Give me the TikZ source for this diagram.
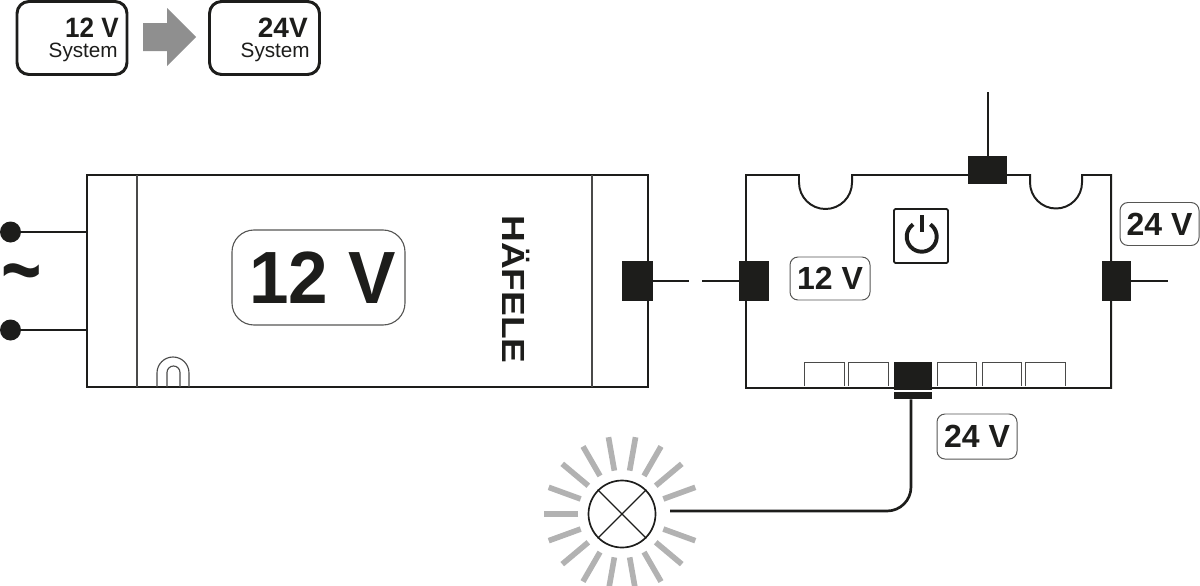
\documentclass[tikz,border=0pt]{standalone}
\usepackage{fontspec}
\setmainfont{Liberation Sans}
\usetikzlibrary{calc}
\definecolor{inkc}{HTML}{1D1D1B}
\definecolor{arrowc}{HTML}{8F8F8F}
\definecolor{rayc}{HTML}{B2B2B2}
\newcommand{\pxsize}{0.025cm}
\newdimen\pxpt
\pxpt=0.7113pt
\newcommand{\pxfont}[1]{\fontsize{#1\pxpt}{#1\pxpt}\selectfont}
\tikzset{
  wire/.style={draw=inkc,line width=1.4pt},
  thinline/.style={draw=inkc!80,line width=0.8pt},
  plug/.style={fill=inkc,inner sep=0pt,minimum width=#1*\pxsize},
  sysbox/.style={draw=inkc,line width=2.1pt,rounded corners=0.3cm,inner sep=0pt,minimum width=110*\pxsize,minimum height=73*\pxsize},
  voltlabel/.style={draw=inkc!75,line width=0.7pt,rounded corners=0.2cm,inner sep=0pt,text=inkc,font=\pxfont{32}\bfseries,minimum width=79*\pxsize,minimum height=43*\pxsize},
  systext/.style={anchor=base east,inner sep=0pt,text=inkc,font=\pxfont{20.7}},
  sysvolt/.style={anchor=base east,inner sep=0pt,text=inkc,font=\pxfont{28}\bfseries},
  slot/.style={draw=inkc!80,line width=0.7pt},
}
\begin{document}
\begin{tikzpicture}[x=\pxsize,y=-\pxsize]
    \useasboundingbox (0,0) rectangle (1200,585);

    % system boxes
    \node[sysbox] (sysa) at (72,38) {};
    \node[sysbox] (sysb) at (264.5,38) {};
    \node[sysvolt] (sysavolt) at (119,37) {\scalebox{.93}[1]{12 V}};
    \node[systext] (sysatext) at (118,57) {System};
    \node[sysvolt] (sysbvolt) at (308,37) {24V};
    \node[systext] (sysbtext) at (310,57) {System};
    \fill[arrowc] (143,23) -- (167,23) -- (167,8) -- (196,37) -- (167,66) -- (167,51) -- (143,51) -- cycle;

    % driver
    \draw[wire] (87,175) rectangle (648,387);
    \draw[thinline] (137,175) -- (137,387);
    \draw[thinline] (592,175) -- (592,387);
    \draw[thinline] (157,387) -- (157,373) arc (180:360:16) -- (189,387);
    \draw[thinline] (167,387) -- (167,372.5) arc (180:360:6.5) -- (180,387);
    \node[draw=inkc!75,line width=0.8pt,rounded corners=0.55cm,minimum width=173*\pxsize,minimum height=95*\pxsize,inner sep=0pt,text=inkc,font=\pxfont{74}\bfseries] (drvlabel) at (318.5,277.5) {\hspace*{8\pxpt}\scalebox{.96}[1]{12 V}};
    \node[rotate=-90,inner sep=0pt,text=inkc,font=\pxfont{32}\bfseries] (logo) at (516.5,289.5) {\scalebox{1.16}[1]{HÄFELE}};

    % mains side
    \node[circle,fill=inkc,inner sep=0pt,minimum size=21*\pxsize] (dota) at (10.5,232) {};
    \node[circle,fill=inkc,inner sep=0pt,minimum size=21*\pxsize] (dotb) at (10.5,330) {};
    \coordinate (ina) at (88,232);
    \coordinate (inb) at (88,330);
    \draw[wire] (dota) -- (ina);
    \draw[wire] (dotb) -- (inb);
    \node[inner sep=0pt,text=inkc,font=\pxfont{64}\bfseries] (mains) at (21.5,282) {\scalebox{1.08}[1.4]{\textasciitilde}};

    % hub
    \draw[wire] (746,388) -- (746,175) -- (799,175) -- (799,182.5) arc (180:0:26.5) -- (852,175)
        -- (1030,175) -- (1030,182.5) arc (180:0:26) -- (1082,175) -- (1111,175) -- (1111,388) -- cycle;

    % plugs and their wires
    \node[plug=31,minimum height=40*\pxsize] (drvplug) at (637.5,281) {};
    \node[plug=30,minimum height=40*\pxsize] (hubin) at (754,281) {};
    \node[plug=29,minimum height=40*\pxsize] (hubout) at (1116.5,281) {};
    \node[plug=39,minimum height=28*\pxsize] (hubtop) at (987.5,170) {};
    \coordinate (drvend) at (689,281);
    \coordinate (hubinend) at (702,281);
    \coordinate (huboutend) at (1168,281);
    \coordinate (hubtopend) at (987.5,92);
    \draw[wire] (drvplug) -- (drvend);
    \draw[wire] (hubin) -- (hubinend);
    \draw[wire] (hubout) -- (huboutend);
    \draw[wire] (hubtop) -- (hubtopend);

    % power button
    \node[draw=inkc,line width=1.2pt,rounded corners=1pt,inner sep=0pt,minimum width=54*\pxsize,minimum height=54*\pxsize] (powerbox) at (921,236) {};
    \draw[draw=inkc,line width=2.8pt] (921.7,236.7) ++(-55:15) arc (-55:235:15);
    \draw[draw=inkc,line width=2.8pt] (921.7,215) -- (921.7,232);

    % labels
    \node[voltlabel] (labtop) at (1159.5,224) {24 V};
    \node[voltlabel,minimum width=80*\pxsize] (labin) at (830,278.5) {12 V};
    \node[voltlabel,minimum width=80*\pxsize,minimum height=45*\pxsize] (labbus) at (977,436.5) {24 V};

    % slots
    \foreach \xa/\xb in {804.5/844,848.5/888,937/976.5,982/1021,1025/1065}
      \draw[slot] (\xa,386) -- (\xa,362.5) -- (\xb,362.5) -- (\xb,386);
    \node[plug=38,minimum height=28*\pxsize] (busplug) at (913,376) {};
    \node[plug=38,minimum height=7*\pxsize] (busband) at (913,395.5) {};

    % lamp
    \node[circle,draw=inkc,line width=1.2pt,inner sep=0pt,minimum size=67*\pxsize] (lamp) at (622,514) {};
    \draw[draw=inkc,line width=0.8pt] (lamp.45) -- (lamp.225);
    \draw[draw=inkc,line width=0.8pt] (lamp.135) -- (lamp.315);
    \foreach \a in {20,40,...,340}
      \draw[rayc,line width=4pt] ($(622,514)+(\a:44)$) -- ($(622,514)+(\a:78)$);
    \coordinate (lampend) at (670,511);
    \draw[wire,line width=1.9pt,rounded corners=0.6cm] (busband.south) ++(-2,0) |- (lampend);
\end{tikzpicture}
\end{document}
